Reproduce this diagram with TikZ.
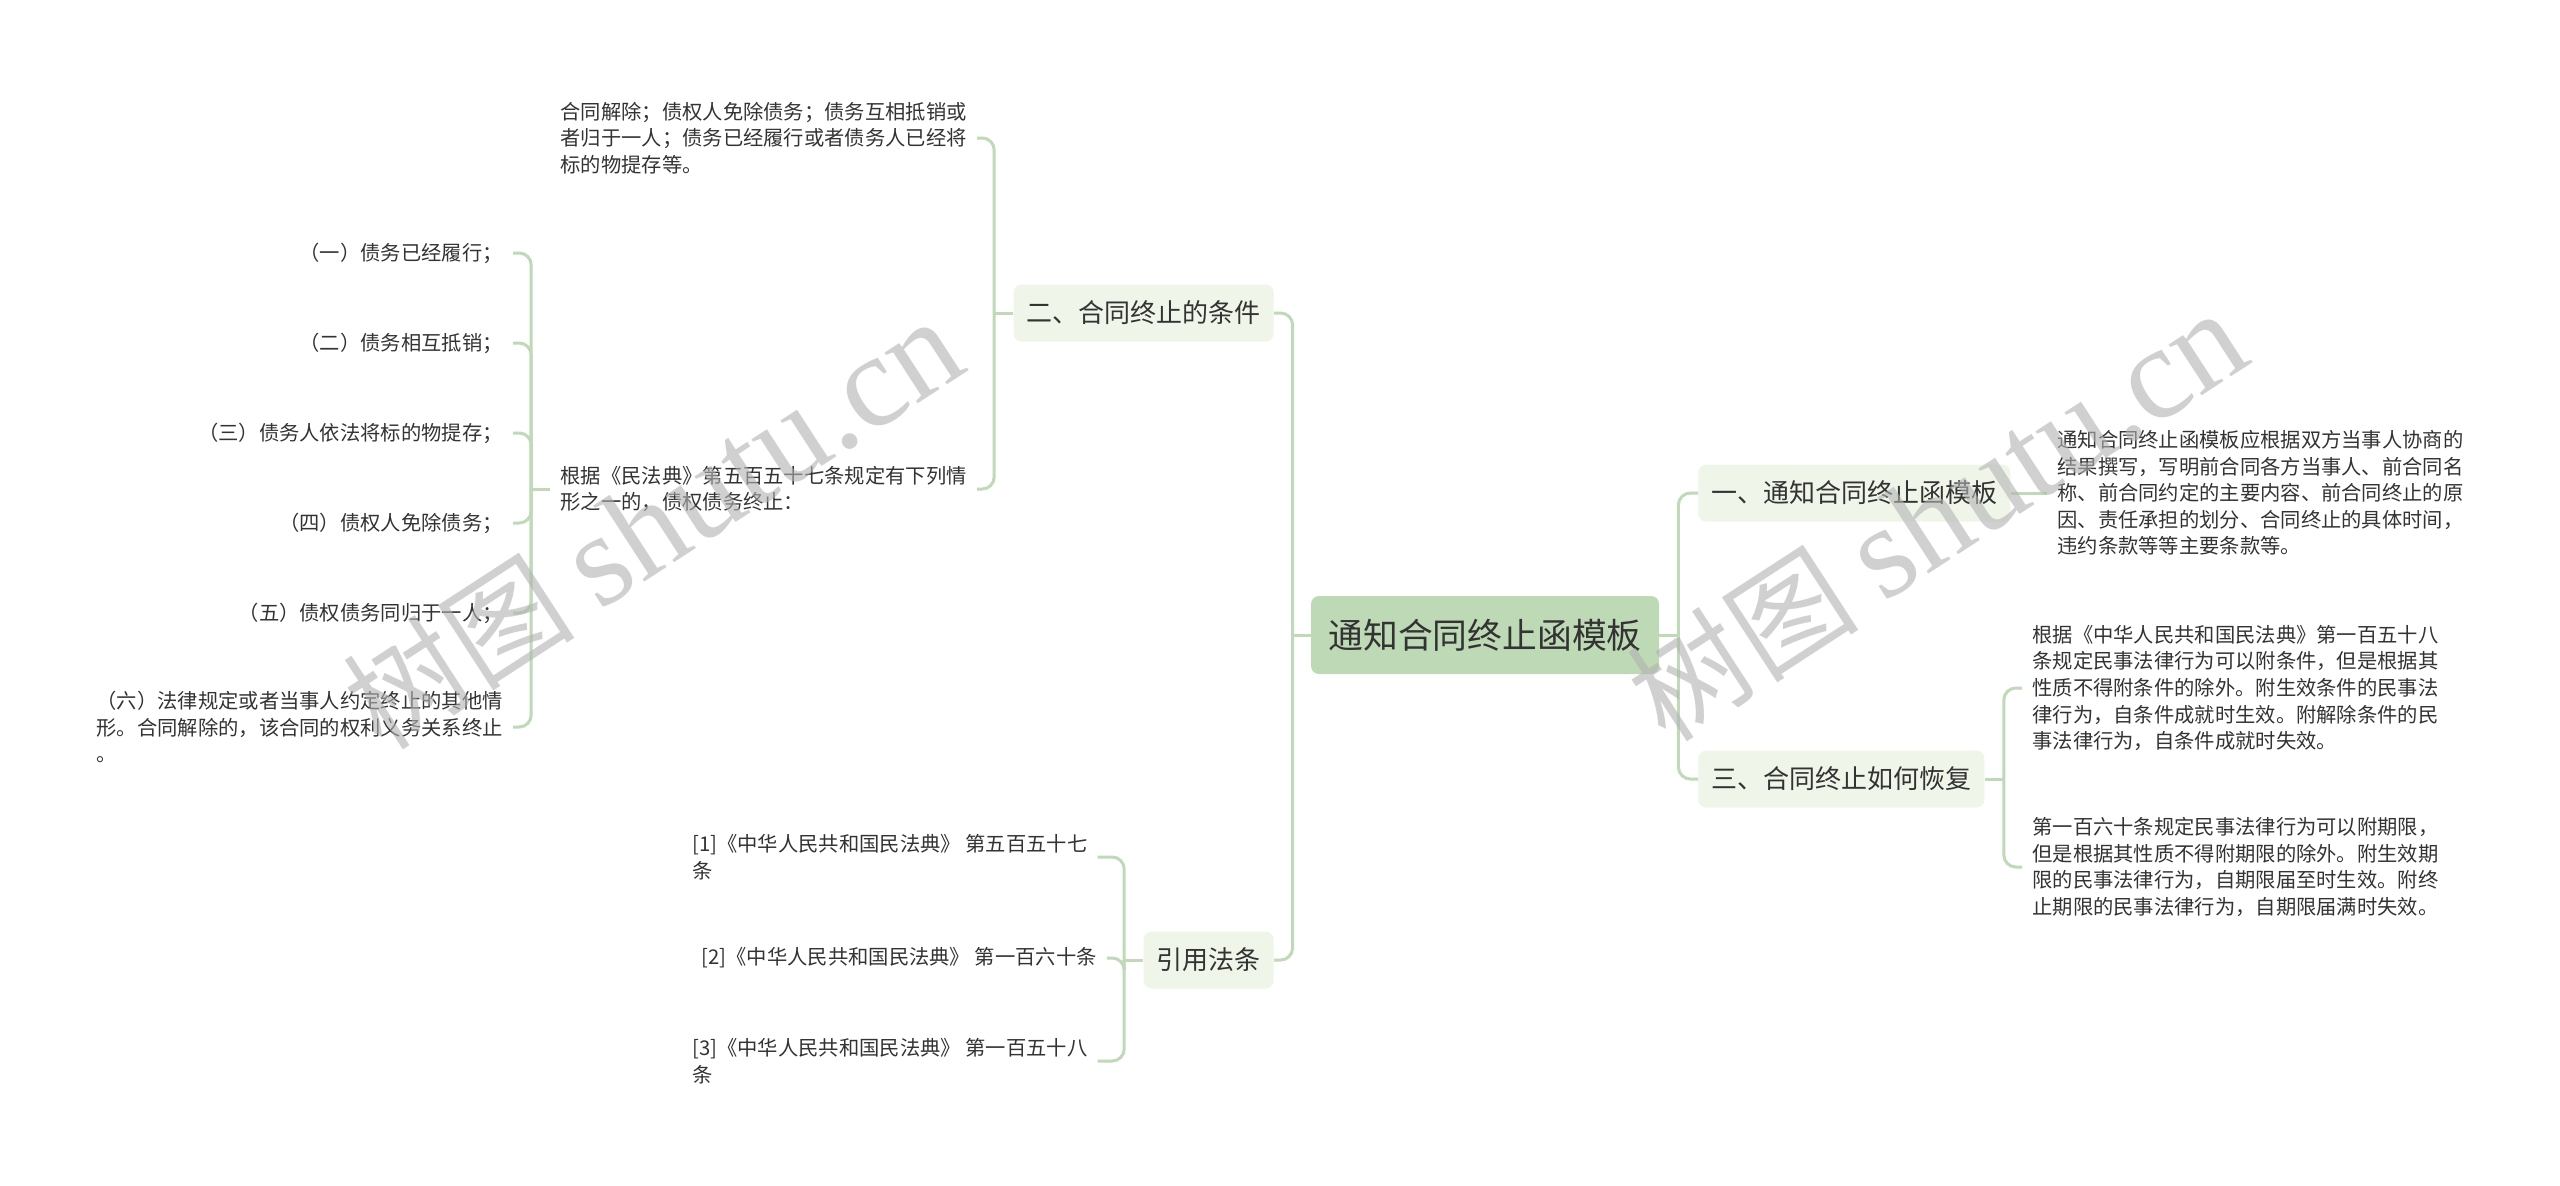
\documentclass[tikz,border=0pt]{standalone}
\usepackage{fontspec}
\setmainfont{Noto Sans CJK SC}
\newfontfamily\wmlatin{Liberation Serif}
\usepackage{tikz}

\definecolor{rootfill}{RGB}{190,217,182}
\definecolor{subfill}{RGB}{239,246,233}
\definecolor{linkcol}{RGB}{192,217,184}
\definecolor{txt}{RGB}{51,51,51}

\begin{document}
\begin{tikzpicture}[x=0.5pt, y=-0.5pt,
  every node/.style={text=txt},
  rootbox/.style={fill=rootfill, rounded corners=4pt, minimum width=174pt, minimum height=39pt, inner sep=0pt, font=\fontsize{17.4}{20}\selectfont},
  subbox/.style={fill=subfill, rounded corners=4pt, minimum height=28.5pt, inner xsep=6.5pt, inner ysep=0pt, font=\fontsize{13}{15}\selectfont},
  leaf/.style={align=left, inner xsep=5pt, inner ysep=2pt, font=\fontsize{10.15}{13.3}\selectfont},
  link/.style={draw=linkcol, line width=1.5pt, rounded corners=6pt},
  wm/.style={text=black!30, text opacity=0.6, rotate=33}]
\fill[white] (0,0) rectangle (2560,1185);
\useasboundingbox (0,0) rectangle (2560,1185);

% root and main branches
\node[rootbox] (root) at (1485,635) {通知合同终止函模板};
\node[subbox, anchor=east] (cond) at (1274,313) {二、合同终止的条件};
\node[subbox, anchor=east] (refs) at (1274,960) {引用法条};
\node[subbox, anchor=west] (tpl) at (1698,493) {一、通知合同终止函模板};
\node[subbox, anchor=west] (rest) at (1698,779) {三、合同终止如何恢复};

\draw[link] (root.west) -- ++(-18,0) coordinate (rl);
\draw[link] (rl) |- (cond.east);
\draw[link] (rl) |- (refs.east);
\draw[link] (root.east) -- ++(19,0) coordinate (rr);
\draw[link] (rr) |- (tpl.west);
\draw[link] (rr) |- (rest.west);

% left: conditions
\node[leaf, anchor=east] (cA) at (977,138) {合同解除；债权人免除债务；债务互相抵销或\\者归于一人；债务已经履行或者债务人已经将\\标的物提存等。};
\node[leaf, anchor=east] (cB) at (977,489) {根据《民法典》第五百五十七条规定有下列情\\形之一的，债权债务终止：};
\draw[link] (cond.west) -- ++(-19,0) coordinate (cj);
\draw[link] (cj) |- (cA.east);
\draw[link] (cj) |- (cB.east);

\draw[link] (cB.west) -- ++(-19,0) coordinate (bj);
\foreach \n/\y/\t in {1/253/（一）债务已经履行；, 2/343/（二）债务相互抵销；, 3/433/（三）债务人依法将标的物提存；, 4/523/（四）债权人免除债务；, 5/613/（五）债权债务同归于一人；} {
  \node[leaf, anchor=east] (i\n) at (513,\y) {\t};
  \draw[link] (bj) |- (i\n.east);
}
\node[leaf, anchor=east] (i6) at (513,727) {（六）法律规定或者当事人约定终止的其他情\\形。合同解除的，该合同的权利义务关系终止\\。};
\draw[link] (bj) |- (i6.east);

% left: cited articles
\node[leaf, anchor=west] (ref1) at (682,857) {[1]《中华人民共和国民法典》 第五百五十七\\条};
\node[leaf, anchor=east] (ref2) at (1107,958) {[2]《中华人民共和国民法典》 第一百六十条};
\node[leaf, anchor=west] (ref3) at (682,1061) {[3]《中华人民共和国民法典》 第一百五十八\\条};
\draw[link] (refs.west) -- ++(-19,0) coordinate (fj);
\foreach \n in {1,2,3} \draw[link] (fj) |- (ref\n.east);

% right side
\node[leaf, anchor=west] (tplTxt) at (2047,493) {通知合同终止函模板应根据双方当事人协商的\\结果撰写，写明前合同各方当事人、前合同名\\称、前合同约定的主要内容、前合同终止的原\\因、责任承担的划分、合同终止的具体时间，\\违约条款等等主要条款等。};
\draw[link] (tpl.east) -- (tplTxt.west);

\node[leaf, anchor=west] (rest1) at (2022,688) {根据《中华人民共和国民法典》第一百五十八\\条规定民事法律行为可以附条件，但是根据其\\性质不得附条件的除外。附生效条件的民事法\\律行为，自条件成就时生效。附解除条件的民\\事法律行为，自条件成就时失效。};
\node[leaf, anchor=west] (rest2) at (2022,867) {第一百六十条规定民事法律行为可以附期限，\\但是根据其性质不得附期限的除外。附生效期\\限的民事法律行为，自期限届至时生效。附终\\止期限的民事法律行为，自期限届满时失效。};
\draw[link] (rest.east) -- ++(19,0) coordinate (sj);
\draw[link] (sj) |- (rest1.west);
\draw[link] (sj) |- (rest2.west);

% watermark
\node[wm, font=\fontsize{58}{58}\selectfont] (wm1) at (653,524) {树图 {\wmlatin\fontsize{66}{66}\selectfont shutu.cn}};
\node[wm, font=\fontsize{58}{58}\selectfont] (wm2) at (1937,516) {树图 {\wmlatin\fontsize{66}{66}\selectfont shutu.cn}};
\end{tikzpicture}
\end{document}
